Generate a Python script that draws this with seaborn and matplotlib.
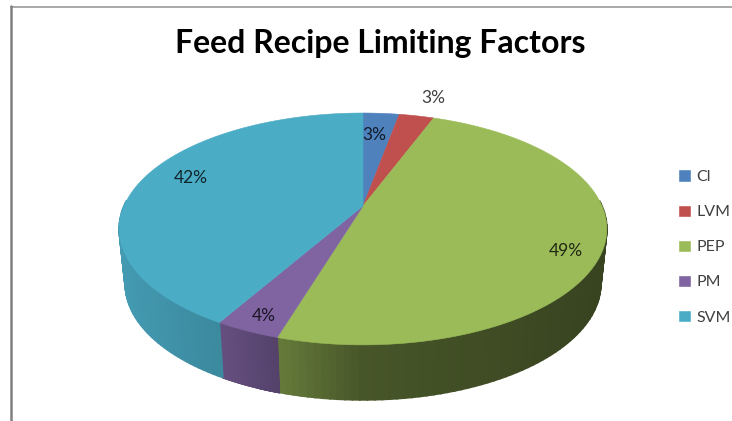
import numpy as np
import seaborn as sns
import matplotlib.pyplot as plt
from matplotlib.patches import Patch

categories = ["Cl", "LVM", "PEP", "PM", "SVM"]
shares = [2.9, 2.8, 49.0, 3.6, 41.7]
colors = ["#4F81BD", "#C0504D", "#9BBB59", "#8064A2", "#4BACC6"]

title_text = "Feed Recipe Limiting Factors"

# where the % labels sit, in image pixels
label_pos = [(374, 135), (433, 98), (566, 251), (264, 316), (191, 178)]

# perspective of the tilted disc, in image pixels
CX, CY = 363, 206
WIDTH = 239
SQUASH = -70.6
K = 0.198
DEPTH = 55
BOTTOM_SCALE = 0.975


def project(theta_deg, drop=0, scale=1.0):
    t = np.radians(theta_deg)
    u, v = np.cos(t), np.sin(t)
    w = 1 + K * v
    return CX + scale * WIDTH * u / w, (CY + SQUASH * v) / w + drop


def wall_shade(x):
    # side of the disc gets darker going left to right
    pos = (x - CX) / 244
    return np.interp(pos, [-1, -0.6, -0.35, 0, 1], [0.9, 0.8, 0.66, 0.46, 0.36])


sns.set_theme(style="white")
plt.rcParams["font.family"] = ["Lato", "DejaVu Sans"]
palette = sns.color_palette(colors)

fig = plt.figure(figsize=(7.32, 4.21), dpi=100, facecolor="white")
ax = fig.add_axes([0, 0, 1, 1])

wedges, _, pct_texts = ax.pie(shares, colors=palette, startangle=90,
                              counterclock=False, autopct="%.0f%%")

# pie() makes it round, go back to pixel coordinates
ax.set_aspect("auto")
ax.set_xlim(0, 732)
ax.set_ylim(421, 0)

for wedge, col in zip(wedges, palette):
    wedge.set_visible(False)
    thetas = np.linspace(wedge.theta1, wedge.theta2, 120)

    # side wall, thin strips so the shading runs across it
    for a, b in zip(thetas[:-1], thetas[1:]):
        if np.sin(np.radians((a + b) / 2)) > 0.05:
            continue
        x1, y1 = project(a)
        x2, y2 = project(b)
        x3, y3 = project(b, DEPTH, BOTTOM_SCALE)
        x4, y4 = project(a, DEPTH, BOTTOM_SCALE)
        shade = wall_shade((x1 + x2) / 2)
        c = tuple(np.array(col) * shade)
        ax.fill([x1, x2, x3, x4], [y1, y2, y3, y4], color=c, lw=1.2, zorder=2)

for wedge, col in zip(wedges, palette):
    thetas = np.linspace(wedge.theta1, wedge.theta2, 120)
    xs, ys = project(thetas)
    ax.fill(np.r_[CX, xs], np.r_[CY, ys], color=col, lw=0.4, zorder=3)

for i, (txt, pos) in enumerate(zip(pct_texts, label_pos)):
    txt.set_position(pos)
    txt.set_zorder(5)
    txt.set_fontsize(12.5)
    if i == 1:
        txt.set_color("#404040")
    else:
        txt.set_color("black")
        txt.set_alpha(0.78)

ax.text(380, 44, title_text, ha="center", va="center", fontsize=23,
        fontweight="bold", color="black")

handles = [Patch(facecolor=c, label=n) for n, c in zip(categories, palette)]
ax.legend(handles=handles, loc="center left", bbox_to_anchor=(678 / 732, 1 - 247 / 421),
          bbox_transform=ax.transAxes, frameon=False, fontsize=11.5, labelcolor="#404040",
          handlelength=0.8, handleheight=0.8, handletextpad=0.35, labelspacing=1.28,
          borderpad=0, borderaxespad=0)

# frame of the original screenshot, only top and left show
ax.plot([11, 732], [6.5, 6.5], color="#9a9a9a", lw=1.2, zorder=1, clip_on=False)
ax.plot([11, 11], [6, 421], color="#808080", lw=1.8, zorder=1, clip_on=False)

fig.savefig("out.png", dpi=100)
